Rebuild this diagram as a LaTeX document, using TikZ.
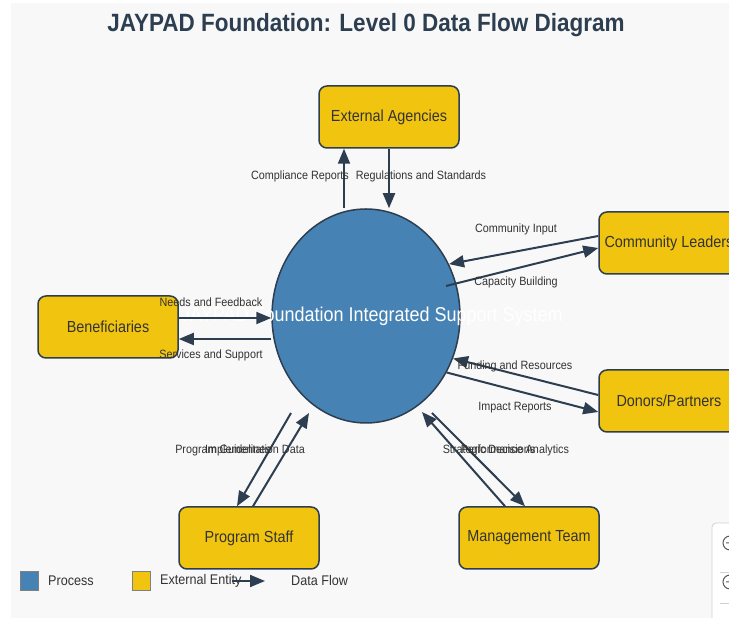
\documentclass[tikz,border=0pt]{standalone}
\usepackage{fontspec}
\setmainfont{Liberation Sans}[FakeStretch=0.9]
\usetikzlibrary{arrows.meta,shapes.geometric}
\definecolor{ink}{HTML}{2C3E50}
\definecolor{procblue}{HTML}{4682B4}
\definecolor{entyellow}{HTML}{F1C40F}
\definecolor{textgray}{HTML}{333333}
\definecolor{bggray}{HTML}{F8F8F8}
\begin{document}
\begin{tikzpicture}[x=1pt, y=1pt,
	entity/.style={draw=ink, line width=1.5pt, fill=entyellow, rounded corners=8pt,
		minimum width=140pt, minimum height=62pt, inner sep=0pt, text=textgray,
		font=\fontsize{16}{18}\selectfont},
	flow/.style={draw=ink, line width=2pt, -{Triangle[length=15pt,width=12pt]}},
	lbl/.style={text=textgray, font=\fontsize{12}{14}\selectfont, inner sep=0pt},
	key/.style={text=textgray, font=\fontsize{14}{16}\selectfont, inner sep=0pt, anchor=west}]
	%frame
	\useasboundingbox (0,0) rectangle (729,618);
	\clip (0,0) rectangle (729,618);
	\fill[white] (0,0) rectangle (729,618);
	\fill[bggray] (11,0) rectangle (729,615);
	%title
	\node[text=ink, font=\bfseries\fontsize{25}{28}\selectfont] (title) at (366,593)
	{JAYPAD Foundation: Level 0 Data Flow Diagram};
	%process
	\node[ellipse, draw=ink, line width=1.5pt, fill=procblue, minimum width=188pt,
	minimum height=214pt, inner sep=0pt] (proc) at (366,302) {};
	\node[text=white, font=\fontsize{20}{22}\selectfont] (proctext) at (372,302)
	{JAYPAD Foundation Integrated Support System};
	%entities
	\node[entity] (ext) at (389,501) {External Agencies};
	\node[entity] (comm) at (669,375) {Community Leaders};
	\node[entity] (ben) at (108,291) {Beneficiaries};
	\node[entity] (don) at (669,217) {Donors/Partners};
	\node[entity] (staff) at (249,80) {Program Staff};
	\node[entity] (mgmt) at (529,80) {Management Team};
	%flow ends
	\coordinate (compA) at ([xshift=-45pt]ext.south);
	\coordinate (capA) at ([shift={(80pt,30pt)}]proc.center);
	\coordinate (needsA) at ([yshift=9pt]ben.east);
	\coordinate (servA) at ([yshift=-12pt]ben.east);
	\coordinate (guideA) at ([shift={(-75pt,-97pt)}]proc.center);
	\coordinate (implB) at ([shift={(-57pt,-97pt)}]proc.center);
	\coordinate (stratA) at ([shift={(66pt,-97pt)}]proc.center);
	\coordinate (perfB) at ([shift={(56pt,-96pt)}]proc.center);
	%flows
	\draw[flow] (proc.north -| compA) -- (compA);
	\draw[flow] (ext.south) -- (ext.south |- proc.north);
	\draw[flow] ([yshift=7pt]comm.west) -- (proc.32);
	\draw[flow] (capA) -- ([yshift=-5pt]comm.west);
	\draw[flow] (needsA) -- (needsA -| proc.west);
	\draw[flow] (servA -| proc.west) -- (servA);
	\draw[flow] ([yshift=6pt]don.west) -- (proc.-26);
	\draw[flow] (proc.-35) -- ([yshift=-11pt]don.west);
	\draw[flow] (guideA) -- ([xshift=-12pt]staff.north);
	\draw[flow] ([xshift=4pt]staff.north) -- (implB);
	\draw[flow] (stratA) -- ([xshift=-4pt]mgmt.north);
	\draw[flow] ([xshift=-24pt]mgmt.north) -- (perfB);
	%labels
	\node[lbl] (compL) at (300,442) {Compliance Reports};
	\node[lbl] (regL) at (421,442) {Regulations and Standards};
	\node[lbl] (inputL) at (516,389) {Community Input};
	\node[lbl] (capL) at (516,336) {Capacity Building};
	\node[lbl] (needsL) at (211,316) {Needs and Feedback};
	\node[lbl] (servL) at (211,263) {Services and Support};
	\node[lbl] (fundL) at (515,252) {Funding and Resources};
	\node[lbl] (impactL) at (515,210) {Impact Reports};
	\node[lbl] (guideL) at (223,168) {Program Guidelines};
	\node[lbl] (implL) at (255,168) {Implementation Data};
	\node[lbl] (stratL) at (489,168) {Strategic Decisions};
	\node[lbl] (perfL) at (515,168) {Performance Analytics};
	%legend
	\node[draw=gray, fill=procblue, minimum width=18pt, minimum height=19pt, inner sep=0pt] (keyproc) at (29,37) {};
	\node[key] (keyprocL) at (48,37) {Process};
	\node[draw=gray, fill=entyellow, minimum width=18pt, minimum height=19pt, inner sep=0pt] (keyent) at (141,37) {};
	\node[key] (keyentL) at (160,37) {External Entity};
	\coordinate (keyflowA) at (232,37);
	\coordinate (keyflowB) at (265,37);
	\draw[flow] (keyflowA) -- (keyflowB);
	\node[key] (keyflowL) at (291,37) {Data Flow};
	%zoom buttons
	\draw[gray!35, fill=white, line width=0.8pt, rounded corners=4pt] (712,-10) rectangle (760,95);
	\draw[gray!35, line width=0.8pt] (720,46) -- (740,46) (720,15) -- (740,15);
	\draw[black!65, line width=1pt] (730,75) circle (7) (726,75) -- (734,75) (730,71) -- (730,79);
	\draw[black!65, line width=1pt] (730,36) circle (7) (726,36) -- (734,36);
\end{tikzpicture}
\end{document}
